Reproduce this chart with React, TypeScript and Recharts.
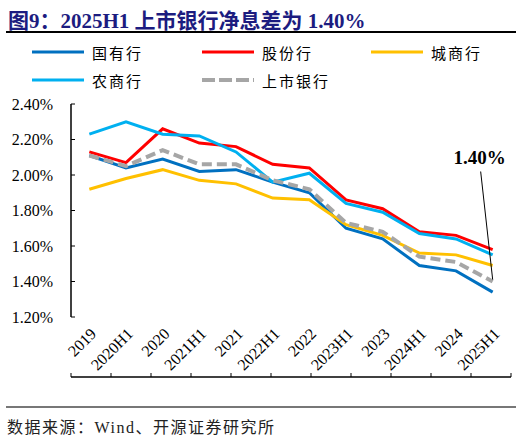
import React from 'react';
import { LineChart, Line, XAxis, YAxis } from 'recharts';

const periods = ['2019', '2020H1', '2020', '2021H1', '2021', '2022H1', '2022', '2023H1', '2023', '2024H1', '2024', '2025H1'];
const stateOwned = [2.11, 2.04, 2.09, 2.02, 2.03, 1.96, 1.90, 1.70, 1.64, 1.49, 1.46, 1.34];
const jointStock = [2.13, 2.07, 2.26, 2.18, 2.16, 2.06, 2.04, 1.86, 1.81, 1.68, 1.66, 1.58];
const cityBanks = [1.92, 1.98, 2.03, 1.97, 1.95, 1.87, 1.86, 1.72, 1.66, 1.56, 1.55, 1.49];
const ruralBanks = [2.23, 2.30, 2.23, 2.22, 2.13, 1.96, 2.01, 1.84, 1.79, 1.67, 1.64, 1.55];
const listedBanks = [2.11, 2.05, 2.14, 2.06, 2.06, 1.97, 1.92, 1.73, 1.68, 1.54, 1.51, 1.40];
const yTicks = [1.2, 1.4, 1.6, 1.8, 2.0, 2.2, 2.4];
const boundaryTicks = [0, 1, 2, 3, 4, 5, 6, 7, 8, 9, 10, 11, 12];

const data = periods.map((p, i) => ({
  period: p,
  stateOwned: stateOwned[i],
  jointStock: jointStock[i],
  cityBanks: cityBanks[i],
  ruralBanks: ruralBanks[i],
  listedBanks: listedBanks[i],
}));

const serif = '"Liberation Serif", "Times New Roman", "Noto Sans CJK SC", serif';

const legendItems = [
  { name: '国有行', color: '#0070c0', dash: false, left: 32, top: 52 },
  { name: '股份行', color: '#ff0000', dash: false, left: 202, top: 52 },
  { name: '城商行', color: '#ffc000', dash: false, left: 371, top: 52 },
  { name: '农商行', color: '#00b0f0', dash: false, left: 32, top: 80 },
  { name: '上市银行', color: '#a6a6a6', dash: true, left: 202, top: 80 },
];

const XTick = (props: any) => {
  const { x, y, payload } = props;
  return (
    <text
      transform={`translate(${x + 4},${y + 6}) rotate(-45)`}
      textAnchor="end"
      dominantBaseline="central"
      fontFamily={serif}
      fontSize={16}
      fill="#000"
    >
      {payload.value}
    </text>
  );
};

const AnnotationLabel = (props: any) => {
  const { x, y, index } = props;
  if (index !== periods.length - 1) return null;
  return (
    <g>
      <line x1={x - 12} y1={y - 110} x2={x} y2={y - 2} stroke="#000" strokeWidth={1} />
      <text x={x - 13} y={y - 118} textAnchor="middle" fontFamily={serif} fontWeight="bold" fontSize={19} fill="#000">
        1.40%
      </text>
    </g>
  );
};

export default function App() {
  return (
    <div style={{ position: 'absolute', left: 0, top: 0, width: 522, height: 437, background: '#fff', fontFamily: serif }}>
      <div style={{ position: 'absolute', left: 8, top: 4, fontSize: 21, fontWeight: 'bold', color: '#1c1c80', whiteSpace: 'nowrap' }}>
        图9：2025H1 上市银行净息差为 1.40%
      </div>
      <div style={{ position: 'absolute', left: 6, top: 31, width: 510, height: 1.5, background: '#000' }} />
      {legendItems.map((item) => (
        <div key={item.name} style={{ position: 'absolute', left: item.left, top: item.top - 10, height: 20, display: 'flex', alignItems: 'center' }}>
          <svg width={54} height={6}>
            <line x1={0} y1={3} x2={52} y2={3} stroke={item.color} strokeWidth={item.dash ? 4 : 3} strokeDasharray={item.dash ? '13 4' : undefined} />
          </svg>
          <span style={{ marginLeft: 6, fontSize: 15, letterSpacing: 2, color: '#000' }}>{item.name}</span>
        </div>
      ))}
      <div style={{ position: 'absolute', left: 0, top: 0 }}>
        <LineChart width={522} height={437} data={data} margin={{ top: 104, right: 11, bottom: 59, left: 0 }}>
          <XAxis
            xAxisId="bounds"
            type="number"
            domain={[0, 12]}
            ticks={boundaryTicks}
            tickFormatter={() => ''}
            tickSize={-4}
            height={1}
            axisLine={{ stroke: '#000', strokeWidth: 1.5 }}
            tickLine={{ stroke: '#000' }}
            allowDataOverflow
          />
          <XAxis
            dataKey="period"
            scale="band"
            interval={0}
            height={60}
            axisLine={false}
            tickLine={false}
            tick={<XTick />}
          />
          <YAxis
            domain={[1.2, 2.4]}
            ticks={yTicks}
            width={71}
            tickFormatter={(v: number) => v.toFixed(2) + '%'}
            tickSize={-4}
            tickMargin={22}
            axisLine={{ stroke: '#000', strokeWidth: 1.5 }}
            tickLine={{ stroke: '#000' }}
            tick={{ fill: '#000', fontSize: 16, fontFamily: serif }}
          />
          <Line dataKey="stateOwned" stroke="#0070c0" strokeWidth={3} dot={false} isAnimationActive={false} />
          <Line dataKey="jointStock" stroke="#ff0000" strokeWidth={3} dot={false} isAnimationActive={false} />
          <Line dataKey="cityBanks" stroke="#ffc000" strokeWidth={3} dot={false} isAnimationActive={false} />
          <Line dataKey="ruralBanks" stroke="#00b0f0" strokeWidth={3} dot={false} isAnimationActive={false} />
          <Line
            dataKey="listedBanks"
            stroke="#a6a6a6"
            strokeWidth={4}
            strokeDasharray="10 5"
            dot={false}
            isAnimationActive={false}
            label={<AnnotationLabel />}
          />
        </LineChart>
      </div>
      <div style={{ position: 'absolute', left: 6, top: 406, width: 510, height: 1.5, background: '#777' }} />
      <div style={{ position: 'absolute', left: 7, top: 414, fontSize: 16, letterSpacing: 1.5, color: '#222', whiteSpace: 'nowrap' }}>
        数据来源：Wind、开源证券研究所
      </div>
    </div>
  );
}
